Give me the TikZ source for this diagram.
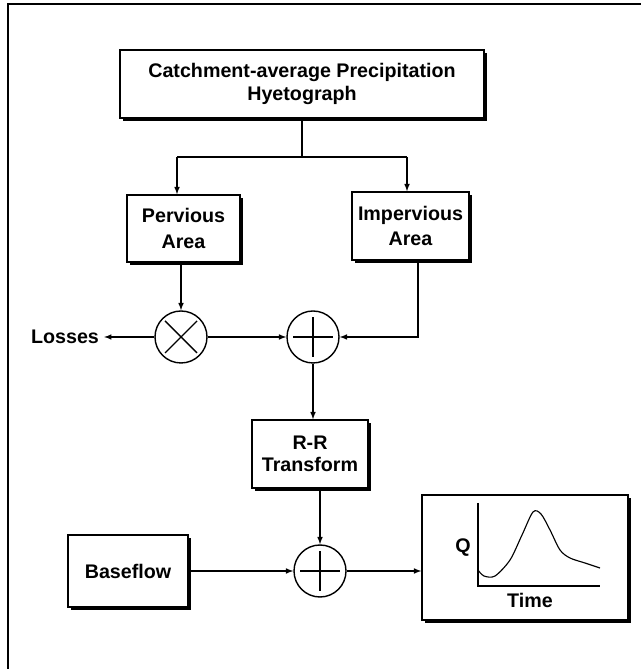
\documentclass[tikz,border=0pt]{standalone}
\usepackage{fontspec}
\setmainfont{Liberation Sans}
\usetikzlibrary{arrows, shadows, positioning}

\begin{document}
\begin{tikzpicture}[>=latex, line width=0.8pt,
		every node/.append style = {font=\fontsize{14}{18}\selectfont\bfseries},
		box/.style = {draw, fill=white, line width=1pt, align=center, inner sep=0pt,
			drop shadow={shadow xshift=2pt, shadow yshift=-2pt, opacity=1, fill=black}},
		junction/.style = {draw, circle, fill=white, line width=1pt, minimum size=1.3cm, inner sep=0pt}]
	\useasboundingbox (0,0) rectangle (16.025,16.725);
	\draw[line width=1.5pt] (0.2,0) -- (0.2,16.625) -- (16.025,16.625);

	\node[box, minimum width=9.1cm, minimum height=1.7cm, font=\fontsize{14}{16}\selectfont\bfseries] (precip) at (7.55,14.625) {Catchment-average Precipitation\\Hyetograph};
	\node[box, minimum width=2.825cm, minimum height=1.675cm] (pervious) at (4.5875,11.0125) {Pervious\\Area};
	\node[box, minimum width=2.925cm, minimum height=1.7cm] (impervious) at (10.2625,11.075) {Impervious\\Area};
	\node[junction] (mul) at (4.525,8.3) {};
	\node[junction] (add1) at (7.825,8.3) {};
	\node (losses) at (1.625,8.3) {Losses};
	\node[box, minimum width=2.9cm, minimum height=1.7cm, font=\fontsize{14}{16}\selectfont\bfseries] (rr) at (7.75,5.375) {R-R\\Transform};
	\node[junction] (add2) at (8.0,2.45) {};
	\node[box, minimum width=3cm, minimum height=1.8cm] (baseflow) at (3.2,2.45) {Baseflow};
	\node[box, minimum width=5.15cm, minimum height=3.125cm] (hydro) at (13.125,2.7875) {};
	\node (q) at (11.575,3.025) {Q};
	\node (time) at (13.25,1.725) {Time};

	% signs in the junctions
	\draw[line width=1pt] (mul.center) ++(-0.4,-0.4) -- ++(0.8,0.8);
	\draw[line width=1pt] (mul.center) ++(-0.4,0.4) -- ++(0.8,-0.8);
	\draw (add1.center) ++(-0.5,0) -- ++(1,0);
	\draw (add1.center) ++(0,-0.5) -- ++(0,1);
	\draw (add2.center) ++(-0.5,0) -- ++(1,0);
	\draw (add2.center) ++(0,-0.5) -- ++(0,1);

	% split of the precipitation
	\coordinate (splitL) at (4.425,12.8);
	\coordinate (splitR) at (10.175,12.8);
	\draw (precip.south) -- (precip.south |- splitL);
	\draw (splitL) -- (splitR);
	\draw[->] (splitL) -- (splitL |- pervious.north);
	\draw[->] (splitR) -- (splitR |- impervious.north);

	\draw[->] (mul.north |- pervious.south) -- (mul.north);
	\draw[->] (mul) -- (losses);
	\draw[->] (mul) -- (add1);
	\draw[->] ([xshift=0.1875cm]impervious.south) |- (add1);
	\draw[->] (add1.south) -- (add1.south |- rr.north);
	\draw[->] (rr.south -| add2.north) -- (add2.north);
	\draw[->] (baseflow) -- (add2);
	\draw[->] (add2) -- (add2 -| hydro.west);

	% hydrograph
	\draw (11.95,4.15) -- (11.95,2.075) -- (15.0,2.075);
	\draw plot[smooth] coordinates {(11.95,2.475) (12.1,2.325) (12.375,2.325) (12.75,2.725) (13.05,3.35) (13.325,3.925) (13.525,3.875) (13.75,3.475) (14.0,2.975) (14.25,2.775) (14.625,2.65) (15.0,2.525)};
\end{tikzpicture}
\end{document}
